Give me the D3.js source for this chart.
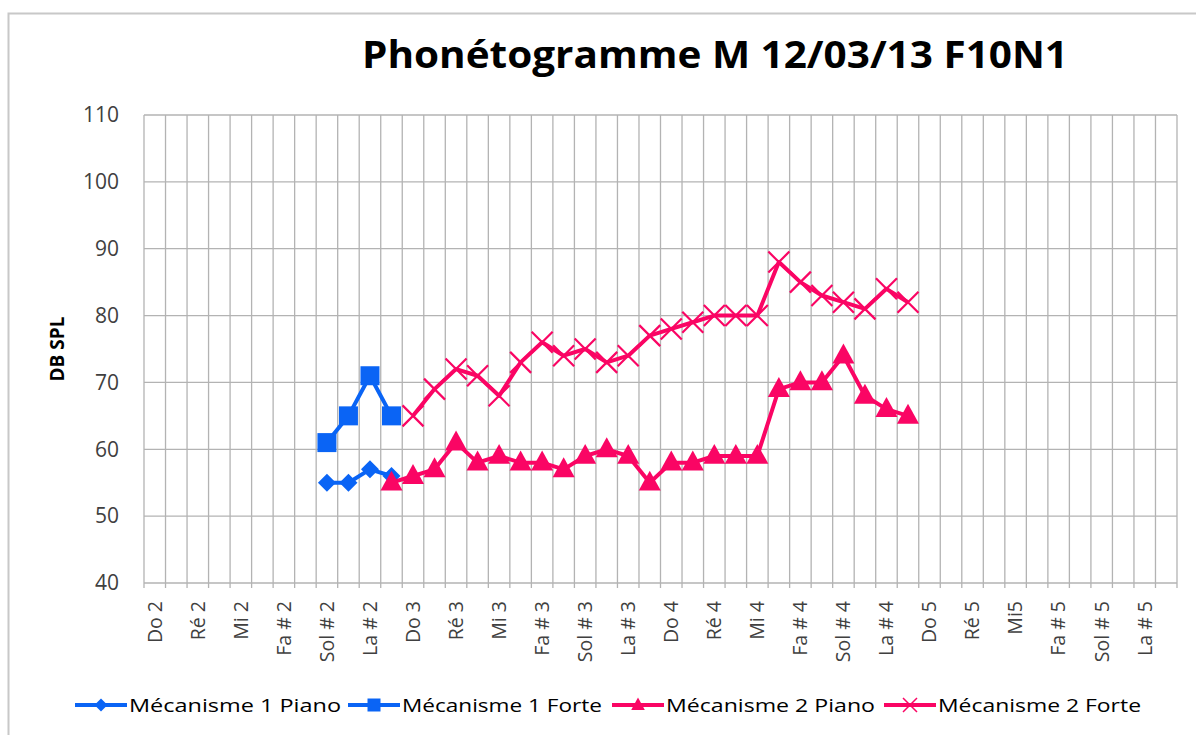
<!DOCTYPE html>
<html>
<head>
<meta charset="utf-8">
<script src="https://cdn.jsdelivr.net/npm/d3@7"></script>
<style>
  body { margin: 0; background: #fff; }
  svg { display: block; font-family: "Open Sans", Lato, sans-serif; }
  .grid line { stroke: #b3b3b3; stroke-width: 1.3; }
  .axis text { fill: #404040; font-family: "Open Sans", Lato, sans-serif; }
</style>
</head>
<body>
<svg id="chart" width="1196" height="735"></svg>
<script>
// categories: every semitone from Do 2 to Si 5, only one label in two is shown
var notes = [
  "Do 2", "Do # 2", "Ré 2", "Ré # 2", "Mi 2", "Fa 2", "Fa # 2", "Sol 2", "Sol # 2", "La 2", "La # 2", "Si 2",
  "Do 3", "Do # 3", "Ré 3", "Ré # 3", "Mi 3", "Fa 3", "Fa # 3", "Sol 3", "Sol # 3", "La 3", "La # 3", "Si 3",
  "Do 4", "Do # 4", "Ré 4", "Ré # 4", "Mi 4", "Fa 4", "Fa # 4", "Sol 4", "Sol # 4", "La 4", "La # 4", "Si 4",
  "Do 5", "Do # 5", "Ré 5", "Ré # 5", "Mi5", "Fa 5", "Fa # 5", "Sol 5", "Sol # 5", "La 5", "La # 5", "Si 5"
];
var yTicks = [40, 50, 60, 70, 80, 90, 100, 110];

var seriesNames = ["Mécanisme 1 Piano", "Mécanisme 1 Forte", "Mécanisme 2 Piano", "Mécanisme 2 Forte"];
var seriesStart = ["Sol # 2", "Sol # 2", "Si 2", "Do 3"];

var meca1Piano = [55, 55, 57, 56];
var meca1Forte = [61, 65, 71, 65];
var meca2Piano = [55, 56, 57, 61, 58, 59, 58, 58, 57, 59, 60, 59, 55, 58, 58, 59, 59, 59, 69, 70, 70, 74, 68, 66, 65];
var meca2Forte = [65, 69, 72, 71, 68, 73, 76, 74, 75, 73, 74, 77, 78, 79, 80, 80, 80, 88, 85, 83, 82, 81, 84, 82];

var seriesValues = [meca1Piano, meca1Forte, meca2Piano, meca2Forte];
var seriesColors = ["#0a64f5", "#0a64f5", "#fa0564", "#fa0564"];
var seriesMarks = ["diamond", "square", "triangle", "cross"];

var svg = d3.select("#chart"),
  margin = { top: 115, right: 19, bottom: 152, left: 144 },
  width = +svg.attr("width") - margin.left - margin.right,
  height = +svg.attr("height") - margin.top - margin.bottom;

// chart frame
svg.append("path")
  .attr("d", "M8.5,740V13.5H1200")
  .attr("fill", "none")
  .attr("stroke", "#c8c8c8")
  .attr("stroke-width", 2);

svg.append("text")
  .attr("x", 362)
  .attr("y", 68)
  .attr("textLength", 706)
  .attr("lengthAdjust", "spacingAndGlyphs")
  .style("font-size", "38px")
  .style("font-weight", "bold")
  .attr("fill", "#000")
  .text("Phonétogramme M 12/03/13 F10N1");

var x = d3.scaleBand().domain(notes).range([0, width]).padding(0);
var y = d3.scaleLinear().domain([40, 110]).range([height, 0]);

var g = svg.append("g")
  .attr("transform", "translate(" + margin.left + "," + margin.top + ")");

// grid: vertical lines at category boundaries, horizontal at ticks
var bounds = notes.map(function (d) { return x(d); }).concat([width]);
var grid = g.append("g").attr("class", "grid");
grid.selectAll(".vline")
  .data(bounds)
  .enter().append("line")
  .attr("x1", function (d) { return d; })
  .attr("x2", function (d) { return d; })
  .attr("y1", 0)
  .attr("y2", height + 5);
grid.selectAll(".hline")
  .data(yTicks)
  .enter().append("line")
  .attr("x1", 0)
  .attr("x2", width)
  .attr("y1", function (d) { return y(d); })
  .attr("y2", function (d) { return y(d); });

// y axis
var yAxis = g.append("g")
  .attr("class", "axis")
  .call(d3.axisLeft(y).tickValues(yTicks).tickSize(0).tickPadding(25));
yAxis.select(".domain").remove();
yAxis.selectAll("text").style("font-size", "21px");

g.append("text")
  .attr("transform", "translate(-87," + (y(75)) + ") rotate(-90)")
  .attr("text-anchor", "middle")
  .attr("dy", "0.35em")
  .style("font-size", "19px")
  .style("font-weight", "bold")
  .attr("fill", "#000")
  .text("DB SPL");

// x axis, one label in two
var xAxis = g.append("g")
  .attr("class", "axis")
  .attr("transform", "translate(0," + height + ")")
  .call(d3.axisBottom(x)
    .tickValues(notes.filter(function (d, i) { return i % 2 === 0; }))
    .tickSize(0));
xAxis.select(".domain").remove();
xAxis.selectAll("text")
  .style("font-size", "19.5px")
  .attr("text-anchor", "end")
  .attr("transform", "rotate(-90)")
  .attr("x", -18)
  .attr("y", 0)
  .attr("dy", "0.35em");

var line = d3.line()
  .x(function (d) { return x(d.note) + x.bandwidth() / 2; })
  .y(function (d) { return y(d.value); });

function markerPath(type, s) {
  if (type === "diamond") return "M0," + (-s) + "L" + s + ",0L0," + s + "L" + (-s) + ",0Z";
  if (type === "square") return "M" + (-s) + "," + (-s) + "H" + s + "V" + s + "H" + (-s) + "Z";
  if (type === "triangle") return "M0," + (-s * 1.15) + "L" + (s * 1.05) + "," + (s * 0.75) + "H" + (-s * 1.05) + "Z";
  return "M" + (-s) + "," + (-s) + "L" + s + "," + s + "M" + (-s) + "," + s + "L" + s + "," + (-s);
}
var markSize = { diamond: 9, square: 9.5, triangle: 10.5, cross: 10.5 };

seriesValues.forEach(function (vals, k) {
  var start = notes.indexOf(seriesStart[k]);
  var pts = vals.map(function (v, i) { return { note: notes[start + i], value: v }; });
  var col = seriesColors[k], mk = seriesMarks[k];

  g.append("path")
    .datum(pts)
    .attr("fill", "none")
    .attr("stroke", col)
    .attr("stroke-width", 4)
    .attr("stroke-linejoin", "round")
    .attr("d", line);

  g.selectAll(".mk" + k)
    .data(pts)
    .enter().append("path")
    .attr("transform", function (d) {
      return "translate(" + (x(d.note) + x.bandwidth() / 2) + "," + y(d.value) + ")";
    })
    .attr("d", markerPath(mk, markSize[mk]))
    .attr("fill", mk === "cross" ? "none" : col)
    .attr("stroke", col)
    .attr("stroke-width", mk === "cross" ? 2.2 : 0);
});

// legend
var legendX = [75, 348, 612, 884];
var legendLen = [212, 200, 209, 203];
var legend = svg.append("g").attr("transform", "translate(0,705)");
seriesNames.forEach(function (name, k) {
  var lg = legend.append("g").attr("transform", "translate(" + legendX[k] + ",0)");
  var mk = seriesMarks[k], col = seriesColors[k];
  lg.append("line")
    .attr("x1", 0).attr("x2", 52)
    .attr("stroke", col)
    .attr("stroke-width", 4);
  lg.append("path")
    .attr("transform", "translate(26,0)")
    .attr("d", markerPath(mk, mk === "cross" ? 7 : 6.5))
    .attr("fill", mk === "cross" ? "none" : col)
    .attr("stroke", col)
    .attr("stroke-width", mk === "cross" ? 1.5 : 0);
  lg.append("text")
    .attr("x", 54)
    .attr("dy", "0.35em")
    .attr("textLength", legendLen[k])
    .attr("lengthAdjust", "spacingAndGlyphs")
    .style("font-size", "19px")
    .attr("fill", "#000")
    .text(name);
});
</script>
</body>
</html>
